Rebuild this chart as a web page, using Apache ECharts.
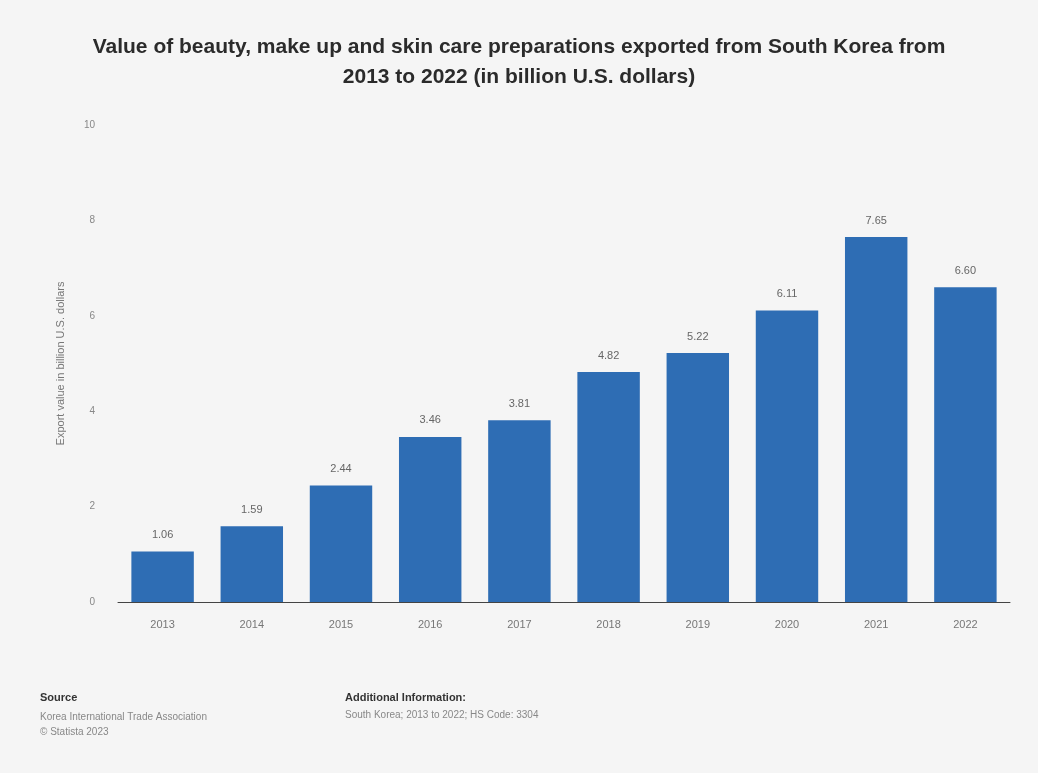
<!DOCTYPE html>
<html>
<head>
<meta charset="utf-8">
<title>South Korea beauty and skin care exports</title>
<script src="https://cdn.jsdelivr.net/npm/echarts@6/dist/echarts.min.js"></script>
<style>
  html, body { margin: 0; padding: 0; background: #f5f5f5; }
  #chart { width: 1038px; height: 773px; }
</style>
</head>
<body>
<div id="chart"></div>
<script>
// Export values of HS 3304 preparations, billion U.S. dollars
const years = ['2013', '2014', '2015', '2016', '2017', '2018', '2019', '2020', '2021', '2022'];
const exportValues = [1.06, 1.59, 2.44, 3.46, 3.81, 4.82, 5.22, 6.11, 7.65, 6.60];
const yTicks = [0, 2, 4, 6, 8, 10];

const titleText = 'Value of beauty, make up and skin care preparations exported from South Korea from\n2013 to 2022 (in billion U.S. dollars)';
const yAxisTitle = 'Export value in billion U.S. dollars';

const chart = echarts.init(document.getElementById('chart'), null, { renderer: 'canvas' });

chart.setOption({
  backgroundColor: '#f5f5f5',
  animation: false,
  title: {
    text: titleText,
    left: 'center',
    top: 27,
    textStyle: {
      fontFamily: 'Liberation Sans, Arial, sans-serif',
      fontSize: 21,
      fontWeight: 'bold',
      color: '#2b2b2b',
      lineHeight: 30
    }
  },
  grid: { left: 118, right: 28, top: 125, bottom: 171 },
  xAxis: {
    type: 'category',
    data: years,
    axisLine: { lineStyle: { color: '#444', width: 1 } },
    axisTick: { show: false },
    axisLabel: { color: '#777', fontSize: 11, margin: 17, fontFamily: 'Liberation Sans, Arial, sans-serif' }
  },
  yAxis: {
    type: 'value',
    min: yTicks[0],
    max: yTicks[yTicks.length - 1],
    interval: yTicks[1] - yTicks[0],
    name: yAxisTitle,
    nameLocation: 'middle',
    nameGap: 52,
    nameTextStyle: { color: '#777', fontSize: 11, fontFamily: 'Liberation Sans, Arial, sans-serif' },
    axisLine: { show: false },
    axisTick: { show: false },
    splitLine: { show: false },
    axisLabel: { color: '#888', fontSize: 10, margin: 23, fontFamily: 'Liberation Sans, Arial, sans-serif' }
  },
  series: [{
    type: 'bar',
    data: exportValues,
    barWidth: '70%',
    itemStyle: { color: '#2e6db4' },
    label: {
      show: true,
      position: 'top',
      distance: 11,
      color: '#666',
      fontSize: 11,
      fontFamily: 'Liberation Sans, Arial, sans-serif',
      formatter: p => p.value.toFixed(2)
    }
  }],
  graphic: [
    { type: 'text', left: 40, top: 692, style: { text: 'Source', font: 'bold 11px Liberation Sans, Arial, sans-serif', fill: '#333' } },
    { type: 'text', left: 40, top: 710, style: { text: 'Korea International Trade Association\n© Statista 2023', font: '10px Liberation Sans, Arial, sans-serif', fill: '#888', lineHeight: 15 } },
    { type: 'text', left: 345, top: 692, style: { text: 'Additional Information:', font: 'bold 11px Liberation Sans, Arial, sans-serif', fill: '#333' } },
    { type: 'text', left: 345, top: 710, style: { text: 'South Korea; 2013 to 2022; HS Code: 3304', font: '10px Liberation Sans, Arial, sans-serif', fill: '#888' } }
  ]
});
</script>
</body>
</html>
